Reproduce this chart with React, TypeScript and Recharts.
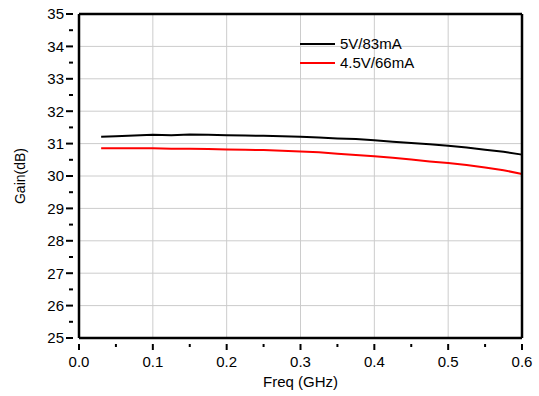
import { LineChart, Line, XAxis, YAxis, ReferenceLine } from 'recharts';

const freq = [0.03, 0.05, 0.075, 0.1, 0.125, 0.15, 0.175, 0.2, 0.225, 0.25, 0.275, 0.3,
  0.325, 0.35, 0.375, 0.4, 0.425, 0.45, 0.475, 0.5, 0.525, 0.55, 0.575, 0.6];
const gain5V = [31.21, 31.23, 31.25, 31.27, 31.26, 31.28, 31.27, 31.26, 31.25, 31.24, 31.23, 31.21,
  31.19, 31.16, 31.14, 31.10, 31.06, 31.02, 30.98, 30.93, 30.88, 30.81, 30.75, 30.66];
const gain45V = [30.86, 30.86, 30.86, 30.86, 30.84, 30.84, 30.83, 30.82, 30.81, 30.80, 30.78, 30.76,
  30.73, 30.69, 30.65, 30.61, 30.56, 30.51, 30.45, 30.40, 30.34, 30.26, 30.18, 30.06];

const xTicks = [0, 0.05, 0.1, 0.15, 0.2, 0.25, 0.3, 0.35, 0.4, 0.45, 0.5, 0.55, 0.6];
const yTicks = [25, 25.5, 26, 26.5, 27, 27.5, 28, 28.5, 29, 29.5, 30, 30.5, 31, 31.5, 32, 32.5, 33, 33.5, 34, 34.5, 35];
const xGrid = [0.1, 0.2, 0.3, 0.4, 0.5];
const yGrid = [26, 27, 28, 29, 30, 31, 32, 33, 34];
const xFrame = [0, 0.6];
const yFrame = [25, 35];

const data = freq.map((f, i) => ({ f, a: gain5V[i], b: gain45V[i] }));

const FONT = '"Liberation Sans", Arial, sans-serif';
const isMajorX = (v: number) => Math.round(v * 100) % 10 === 0;
const isMajorY = (v: number) => Math.round(v * 10) % 10 === 0;

// custom tick renderers: tickSize/margin are 0 so x,y sit right on the axis line
const BottomTick = ({ x, y, payload }: any) => {
  const major = isMajorX(payload.value);
  return (
    <g>
      <line x1={x} x2={x} y1={y} y2={y + (major ? 6 : 3)} stroke="#000" strokeWidth={2} />
      {major && (
        <text x={x} y={y + 23} textAnchor="middle" fontSize={15} fontFamily={FONT} fill="#000">
          {payload.value.toFixed(1)}
        </text>
      )}
    </g>
  );
};

const TopTick = ({ x, y, payload }: any) => (
  <line x1={x} x2={x} y1={y} y2={y + (isMajorX(payload.value) ? 5 : 3)} stroke="#000" strokeWidth={2} />
);

const LeftTick = ({ x, y, payload }: any) => {
  const major = isMajorY(payload.value);
  return (
    <g>
      <line x1={x} x2={x - (major ? 7 : 4)} y1={y} y2={y} stroke="#000" strokeWidth={2} />
      {major && (
        <text x={x - 9} y={y} dy="0.36em" textAnchor="end" fontSize={15} fontFamily={FONT} fill="#000">
          {payload.value}
        </text>
      )}
    </g>
  );
};

const RightTick = ({ x, y, payload }: any) => (
  <line x1={x} x2={x - (isMajorY(payload.value) ? 5 : 3)} y1={y} y2={y} stroke="#000" strokeWidth={2} />
);

export default function App() {
  return (
    <div style={{ position: 'absolute', left: 0, top: 0, width: 539, height: 396, background: '#fff' }}>
      <LineChart width={539} height={396} data={data} margin={{ top: 14, right: 17, bottom: 8, left: 39 }}>
        <XAxis
          xAxisId="b" dataKey="f" type="number" domain={[0, 0.6]} ticks={xTicks} interval={0}
          tickLine={false} tickMargin={0} axisLine={false} tick={<BottomTick />} height={50}
          label={{ value: 'Freq (GHz)', position: 'insideBottom', offset: 1, fontSize: 15, fontFamily: FONT, fill: '#000' }}
        />
        <XAxis
          xAxisId="t" orientation="top" dataKey="f" type="number" domain={[0, 0.6]} ticks={xTicks} interval={0}
          tickLine={false} tickMargin={0} axisLine={false} tick={<TopTick />} height={0}
        />
        <YAxis
          yAxisId="l" type="number" domain={[25, 35]} ticks={yTicks} interval={0}
          tickLine={false} tickMargin={0} axisLine={false} tick={<LeftTick />} width={40}
          label={{ value: 'Gain(dB)', angle: -90, position: 'insideLeft', offset: -19, fontSize: 14, fontFamily: FONT, fill: '#000', style: { textAnchor: 'middle' } }}
        />
        <YAxis
          yAxisId="r" orientation="right" type="number" domain={[25, 35]} ticks={yTicks} interval={0}
          tickLine={false} tickMargin={0} axisLine={false} tick={<RightTick />} width={0}
        />
        {xGrid.map(v => (
          <ReferenceLine key={'gx' + v} x={v} xAxisId="b" yAxisId="l" stroke="#cccccc" strokeWidth={1} />
        ))}
        {yGrid.map(v => (
          <ReferenceLine key={'gy' + v} y={v} xAxisId="b" yAxisId="l" stroke="#cccccc" strokeWidth={1} />
        ))}
        <Line xAxisId="b" yAxisId="l" type="linear" dataKey="a" stroke="#000" strokeWidth={2} dot={false} isAnimationActive={false} />
        <Line xAxisId="b" yAxisId="l" type="linear" dataKey="b" stroke="#ff0000" strokeWidth={2} dot={false} isAnimationActive={false} />
        {xFrame.map(v => (
          <ReferenceLine key={'fx' + v} x={v} xAxisId="b" yAxisId="l" stroke="#000" strokeWidth={2.5} ifOverflow="visible" />
        ))}
        {yFrame.map(v => (
          <ReferenceLine key={'fy' + v} y={v} xAxisId="b" yAxisId="l" stroke="#000" strokeWidth={2.5} ifOverflow="visible" />
        ))}
      </LineChart>
      <div style={{ position: 'absolute', left: 300, top: 34, fontFamily: FONT, fontSize: 15, color: '#000', lineHeight: '19px' }}>
        <div style={{ display: 'flex', alignItems: 'center' }}>
          <div style={{ width: 35, height: 2, background: '#000', marginRight: 5 }} />
          <span>5V/83mA</span>
        </div>
        <div style={{ display: 'flex', alignItems: 'center' }}>
          <div style={{ width: 35, height: 2, background: '#ff0000', marginRight: 5 }} />
          <span>4.5V/66mA</span>
        </div>
      </div>
    </div>
  );
}
